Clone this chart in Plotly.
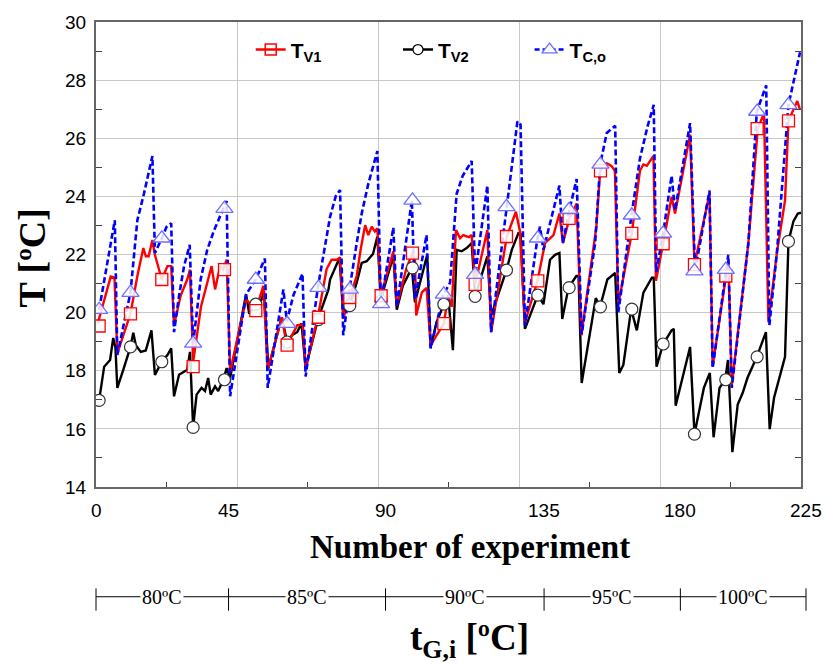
import plotly.graph_objects as go

# ---------------- data ----------------
# T_V1 (red, solid)
v1_x = [0.5, 2.5, 4.7, 5.9, 6.8, 11, 13.2, 15.1, 15.9, 16.8, 18, 18.8, 21, 22.8, 24, 24.9, 27, 29.1, 30, 31,
        33.5, 36.9, 38, 39.6, 40.6, 41.7, 42.8, 47.9, 51, 53.4, 54.8, 59.3, 60.9, 64.2, 66, 66.9, 70.8, 73.6,
        75.2, 76.8, 77.9, 78.9, 80.9, 83.2, 84.5, 85.9, 86.9, 88, 89, 89.8, 90.9, 94.9, 96, 99, 101, 101.8,
        102.2, 104, 105.5, 106.8, 108.5, 111, 112.4, 113.5, 114.9, 116.2, 117.2, 119, 119.9, 121, 124.9,
        126.1, 131.1, 134, 135.3, 136.9, 140.9, 143.3, 146, 147.9, 149, 151.1, 153.4, 154.9, 159.7, 160.9,
        163, 164.5, 165.6, 166.7, 171, 173.6, 174.7, 175.8, 177.9, 178.7, 181, 183.7, 184.8, 189.6, 191,
        195.8, 196.8, 201, 201.8, 202.9, 208.2, 211.2, 213.2, 214.6, 217.3, 219.9, 221, 223.8, 224.7]
v1_y = [19.6, 20.4, 21.24, 21.2, 18.6, 19.96, 21.26, 22.22, 21.94, 21.94, 22.5, 21.99, 21.14, 21.6, 21.6, 19.56,
        20.58, 21.14, 21.48, 18.3, 20.2, 21.6, 20.8, 21.6, 21.48, 21.82, 17.97, 20.46, 20.07, 20.92, 18.03,
        19.84, 18.88, 19.56, 19.6, 18.09, 19.84, 21.5, 21.82, 21.82, 21.9, 19.78, 20.52, 21.26, 22.2, 23.01,
        22.67, 22.96, 22.79, 22.9, 20.58, 22.11, 20.24, 21.5, 22.05, 21.82, 19.9, 20.7, 20.85, 18.88, 19.2,
        19.62, 20.58, 20.2, 22.84, 22.56, 22.67, 22.6, 22.67, 20.97, 22.84, 19.33, 22.62, 23.47, 22.8, 19.67,
        21.09, 22.39, 22.67, 23.41, 22.39, 23.24, 23.75, 19.22, 22.96, 24.88, 25.14, 25.05, 24.88, 20.3,
        22.73, 24.88, 25.1, 25.05, 25.39, 21.1, 22.37, 23.98, 23.41, 26.13, 21.65, 24.09, 18.15, 21.26, 21.8,
        17.5, 22.39, 26.33, 26.86, 19.67, 22.05, 23.86, 26.6, 27.28, 26.98]

# T_V2 (black, solid)
v2_x = [1, 2.6, 4.5, 5.5, 6.2, 6.8, 8.7, 11, 11.9, 12.7, 14.3, 15.9, 17.7, 18.8, 21, 22.8, 24, 24.9, 26.5, 29.1,
        30, 31, 32.1, 33.7, 34.8, 35.8, 36.6, 38, 39, 40.6, 41.7, 42.8, 47.9, 48.9, 51, 52.9, 53.6, 55, 59.3,
        60.3, 61, 62.5, 64.2, 65.6, 66.9, 70.8, 73.1, 74.2, 74.7, 75.7, 77.7, 78.9, 80.9, 83.2, 84.8, 86.4,
        88.4, 89.8, 90.9, 94.9, 96, 97.9, 100.8, 101.8, 105.7, 106.8, 108.7, 111, 112.4, 113.9, 115.1, 116.7,
        118.3, 119.9, 121, 124.9, 126.1, 131, 132.7, 134.8, 135.5, 136.9, 141, 142.8, 144.9, 146.5, 147.9,
        148.8, 150.8, 153.3, 154, 155, 159.5, 160.9, 163.2, 165.7, 167, 168.3, 170.8, 172.6, 174.7, 177.4,
        178, 178.9, 181, 183.7, 184.4, 185, 189.6, 191, 194, 195.9, 197.1, 199, 200.8, 201.7, 203.1, 204.8,
        206.4, 207.9, 210.9, 213.8, 215, 216.4, 218.3, 219.9, 221, 222.6, 224, 225]
v2_y = [16.98, 18.14, 18.37, 19.13, 18.8, 17.41, 18.03, 18.82, 19.31, 18.88, 18.65, 18.7, 19.39, 17.86, 18.31,
        18.54, 18.77, 17.12, 17.86, 18.03, 18.65, 16.05, 17.18, 17.41, 17.3, 17.75, 17.18, 17.46, 17.3, 17.69,
        18.09, 17.75, 20.63, 19.96, 20.29, 20.46, 20.75, 18.09, 19.84, 19.33, 18.99, 19.22, 19.33, 19.62,
        18.09, 19.76, 20.46, 20.8, 21.14, 21.37, 21.88, 20.01, 20.24, 21.03, 21.71, 21.77, 22.02, 22.62,
        20.46, 21.94, 20.1, 20.92, 21.54, 20.35, 21.99, 18.8, 19.67, 20.29, 20.58, 18.71, 22.16, 22.11,
        22.22, 22.39, 20.56, 21.94, 19.9, 21.46, 22.16, 22.73, 22.7, 19.44, 20.6, 20.29, 21.82, 21.99, 22.05,
        19.78, 20.86, 21.26, 21.26, 17.58, 20.5, 20.2, 21.14, 21.37, 17.92, 18.2, 20.12, 19.39, 20.69, 21.2,
        21.2, 18.14, 18.92, 19.39, 19.44, 16.8, 18.82, 15.82, 17.41, 17.92, 15.71, 17.41, 17.69, 18.37, 15.2,
        16.84, 17.24, 17.75, 18.48, 19.33, 15.99, 17.07, 17.86, 18.48, 22.45, 23.15, 23.41, 23.44]

# T_C,o (blue, dashed)
co_x = [1, 6, 6.8, 11, 13.2, 15.3, 18, 18.8, 21, 22.5, 24, 24.9, 26.5, 28.1, 29.9, 31, 33.4, 35.5, 37.7, 39.5,
        41.7, 42.8, 47.9, 51, 53.9, 54.8, 59.8, 60.9, 63, 65.9, 66.9, 70.8, 74.7, 76.5, 77.9, 78.9, 80.9, 83.2,
        84.8, 86.9, 88.5, 89.8, 90.9, 94.9, 96, 100.8, 101.8, 105.5, 106.8, 110.9, 113, 115.1, 117, 119.9,
        121, 124.9, 126.1, 131.1, 133.2, 134.5, 135.5, 136.9, 140.9, 141.7, 142.8, 147.9, 149, 151.1, 153.4,
        155, 159.3, 160.9, 163, 165.7, 166.7, 170.9, 173.6, 176, 178, 178.8, 181, 183.7, 184.8, 189.6, 191.2,
        195.8, 196.8, 201, 201.8, 202.9, 208.2, 210.9, 213.9, 214.9, 217.3, 221, 224.7]
co_y = [20.1, 23.18, 18.54, 20.69, 23.18, 24.09, 25.39, 22.05, 22.56, 22.95, 23.07, 19.33, 20.58, 21.6, 22.33,
        18.94, 21.14, 22.16, 22.84, 23.3, 23.84, 17.12, 20.63, 21.14, 21.86, 17.41, 20.8, 19.7, 20.6, 21.34,
        17.8, 20.86, 23.3, 24.0, 24.22, 19.22, 20.8, 22.39, 23.41, 24.43, 25.1, 25.56, 20.3, 22.93, 20.2,
        23.86, 20.46, 22.67, 18.77, 20.63, 21.03, 24.09, 24.7, 25.22, 21.31, 24.37, 19.33, 23.64, 25.33,
        26.58, 26.47, 19.56, 22.56, 22.96, 22.16, 24.37, 22.39, 23.54, 24.6, 19.25, 22.39, 25.1, 26.18,
        26.43, 20.01, 23.35, 25.3, 26.4, 27.15, 21.4, 22.73, 24.71, 23.52, 26.52, 21.43, 24.2, 18.09, 21.48,
        21.99, 17.41, 22.39, 26.92, 27.82, 19.56, 22.05, 27.15, 28.96]

# marker positions (every 10th experiment) and marker values
mk_x = [1, 11, 21, 31, 41, 51, 61, 71, 81, 91, 101, 111, 121, 131, 141, 151, 161, 171, 181, 191, 201, 211, 221]
v1_mk = [19.54, 19.96, 21.14, 18.14, 21.48, 20.07, 18.88, 19.84, 20.52, 20.58, 22.05, 19.62, 20.97, 22.62,
         21.09, 23.24, 24.88, 22.73, 22.37, 21.65, 21.26, 26.33, 26.6]
v2_mk = [16.98, 18.82, 18.31, 16.05, 17.69, 20.29, 18.99, 19.76, 20.24, 20.4, 21.54, 20.29, 20.56, 21.46,
         20.6, 20.86, 20.2, 20.12, 18.92, 15.82, 17.69, 18.48, 22.45]
co_mk = [20.1, 20.69, 22.56, 18.94, 23.58, 21.14, 19.62, 20.86, 20.8, 20.3, 23.86, 20.63, 21.31, 23.64,
         22.56, 23.54, 25.1, 23.35, 22.73, 21.43, 21.48, 26.92, 27.15]

# axes / scales
X_RANGE = [0, 225]
Y_RANGE = [14, 30]
x_grid = [0, 45, 90, 135, 180, 225]
x_tick_text = ["0", "45", "90", "135", "180", "225"]
scale_pos = [0, 42.3, 92.4, 143.0, 186.5, 226.6]   # positions of the printed x labels / tG,i scale ticks
tg_labels = ["80ºC", "85ºC", "90ºC", "95ºC", "100ºC"]
names = ["<b>T<sub>V1</sub></b>", "<b>T<sub>V2</sub></b>", "<b>T<sub>C,o</sub></b>"]

RED, BLACK, BLUE, TRI = "#ff0000", "#000000", "#0000ff", "#6f6fff"
SANS = "Liberation Sans, Arial, sans-serif"
SERIF = "Liberation Serif, Times New Roman, serif"


def px(v):
    return (v - X_RANGE[0]) / (X_RANGE[1] - X_RANGE[0])


fig = go.Figure()

# legend entries (each in its own legend box)
leg_styles = [
    dict(line=dict(color=RED, width=2.5), marker=dict(symbol="square-open", size=11, color=RED, line=dict(width=1.5))),
    dict(line=dict(color=BLACK, width=2.5), marker=dict(symbol="circle", size=10, color="white", line=dict(color=BLACK, width=1.2))),
    dict(line=dict(color=BLUE, width=2.5, dash="5px,3px"), marker=dict(symbol="triangle-up", size=13, color="white", line=dict(color=TRI, width=1.3))),
]
for i, (nm, st) in enumerate(zip(names, leg_styles)):
    fig.add_trace(go.Scatter(x=[None], y=[None], mode="lines+markers", name=nm,
                             legend="legend" if i == 0 else f"legend{i+1}", **st))

# lines
fig.add_trace(go.Scatter(x=v2_x, y=v2_y, mode="lines", line=dict(color=BLACK, width=2.4), showlegend=False))
fig.add_trace(go.Scatter(x=v1_x, y=v1_y, mode="lines", line=dict(color=RED, width=2.4), showlegend=False))
fig.add_trace(go.Scatter(x=co_x, y=co_y, mode="lines", line=dict(color=BLUE, width=2.6, dash="6px,3px"), showlegend=False))

# markers
fig.add_trace(go.Scatter(x=mk_x, y=v2_mk, mode="markers", showlegend=False,
                         marker=dict(symbol="circle", size=12, color="white", line=dict(color="#333333", width=1.2))))
fig.add_trace(go.Scatter(x=mk_x, y=v1_mk, mode="markers", showlegend=False,
                         marker=dict(symbol="square", size=12, color="rgba(255,255,255,0.85)", line=dict(color=RED, width=1.3))))
fig.add_trace(go.Scatter(x=mk_x, y=co_mk, mode="markers", showlegend=False,
                         marker=dict(symbol="triangle-up", size=15, color="rgba(255,255,255,0.85)", line=dict(color=TRI, width=1.3))))

ann = []
# printed x tick labels
for p, t in zip(scale_pos, x_tick_text):
    ann.append(dict(x=px(p), y=-0.051, xref="paper", yref="paper", text=t, showarrow=False,
                    font=dict(family=SANS, size=19, color="black"), xanchor="center", yanchor="middle"))
# axis titles
ann.append(dict(x=0.53, y=-0.13, xref="paper", yref="paper", text="<b>Number of experiment</b>", showarrow=False,
                font=dict(family=SERIF, size=33, color="black"), xanchor="center", yanchor="middle"))
ann.append(dict(x=-0.091, y=0.493, xref="paper", yref="paper", text="<b>T [ºC]</b>", showarrow=False, textangle=-90,
                font=dict(family=SERIF, size=38, color="black"), xanchor="center", yanchor="middle"))
ann.append(dict(x=0.53, y=-0.33, xref="paper", yref="paper", text="<b>t<sub>G,i</sub> [ºC]</b>", showarrow=False,
                font=dict(family=SERIF, size=37, color="black"), xanchor="center", yanchor="middle"))

# tG,i scale below the chart
BAR_Y = -0.236
shapes = [dict(type="line", xref="paper", yref="paper", x0=px(scale_pos[0]), x1=px(scale_pos[-1]),
               y0=BAR_Y, y1=BAR_Y, line=dict(color="black", width=1))]
for p in scale_pos:
    shapes.append(dict(type="line", xref="paper", yref="paper", x0=px(p), x1=px(p), y0=BAR_Y + 0.018,
                       y1=BAR_Y - 0.03, line=dict(color="black", width=1)))
for a, b, t in zip(scale_pos[:-1], scale_pos[1:], tg_labels):
    ann.append(dict(x=px((a + b) / 2), y=BAR_Y, xref="paper", yref="paper", text=t, showarrow=False,
                    bgcolor="white", borderpad=1, font=dict(family=SERIF, size=20, color="black"),
                    xanchor="center", yanchor="middle"))

leg_common = dict(orientation="h", bgcolor="rgba(0,0,0,0)", font=dict(family=SANS, size=21, color="black"),
                  yanchor="middle", y=0.94, xanchor="left", itemwidth=30)

fig.update_layout(
    width=824, height=671, margin=dict(l=96, r=23, t=17, b=184),
    paper_bgcolor="white", plot_bgcolor="white",
    annotations=ann, shapes=shapes,
    legend=dict(x=px(50.5) - 0.005, **leg_common),
    legend2=dict(x=px(97.5) - 0.005, **leg_common),
    legend3=dict(x=px(139.5) - 0.005, **leg_common),
    xaxis=dict(range=X_RANGE, tickvals=x_grid, showticklabels=False, ticks="", showgrid=True,
               gridcolor="#c8c8c8", gridwidth=1, zeroline=False, showline=True, linecolor="#666666",
               linewidth=1.5, mirror=True,
               minor=dict(tickvals=[22.5, 67.5, 112.5, 157.5, 202.5], ticks="inside", ticklen=5,
                          tickcolor="#444444", showgrid=False)),
    yaxis=dict(range=Y_RANGE, dtick=2, tick0=14, ticks="", showgrid=True, gridcolor="#c8c8c8", gridwidth=1,
               zeroline=False, showline=True, linecolor="#666666", linewidth=2, mirror="allticks",
               tickfont=dict(family=SANS, size=19, color="black"), ticklabelstandoff=4,
               minor=dict(dtick=1, tick0=14, ticks="inside", ticklen=6, tickcolor="#444444", showgrid=False)),
)

fig.write_html("out.html")
